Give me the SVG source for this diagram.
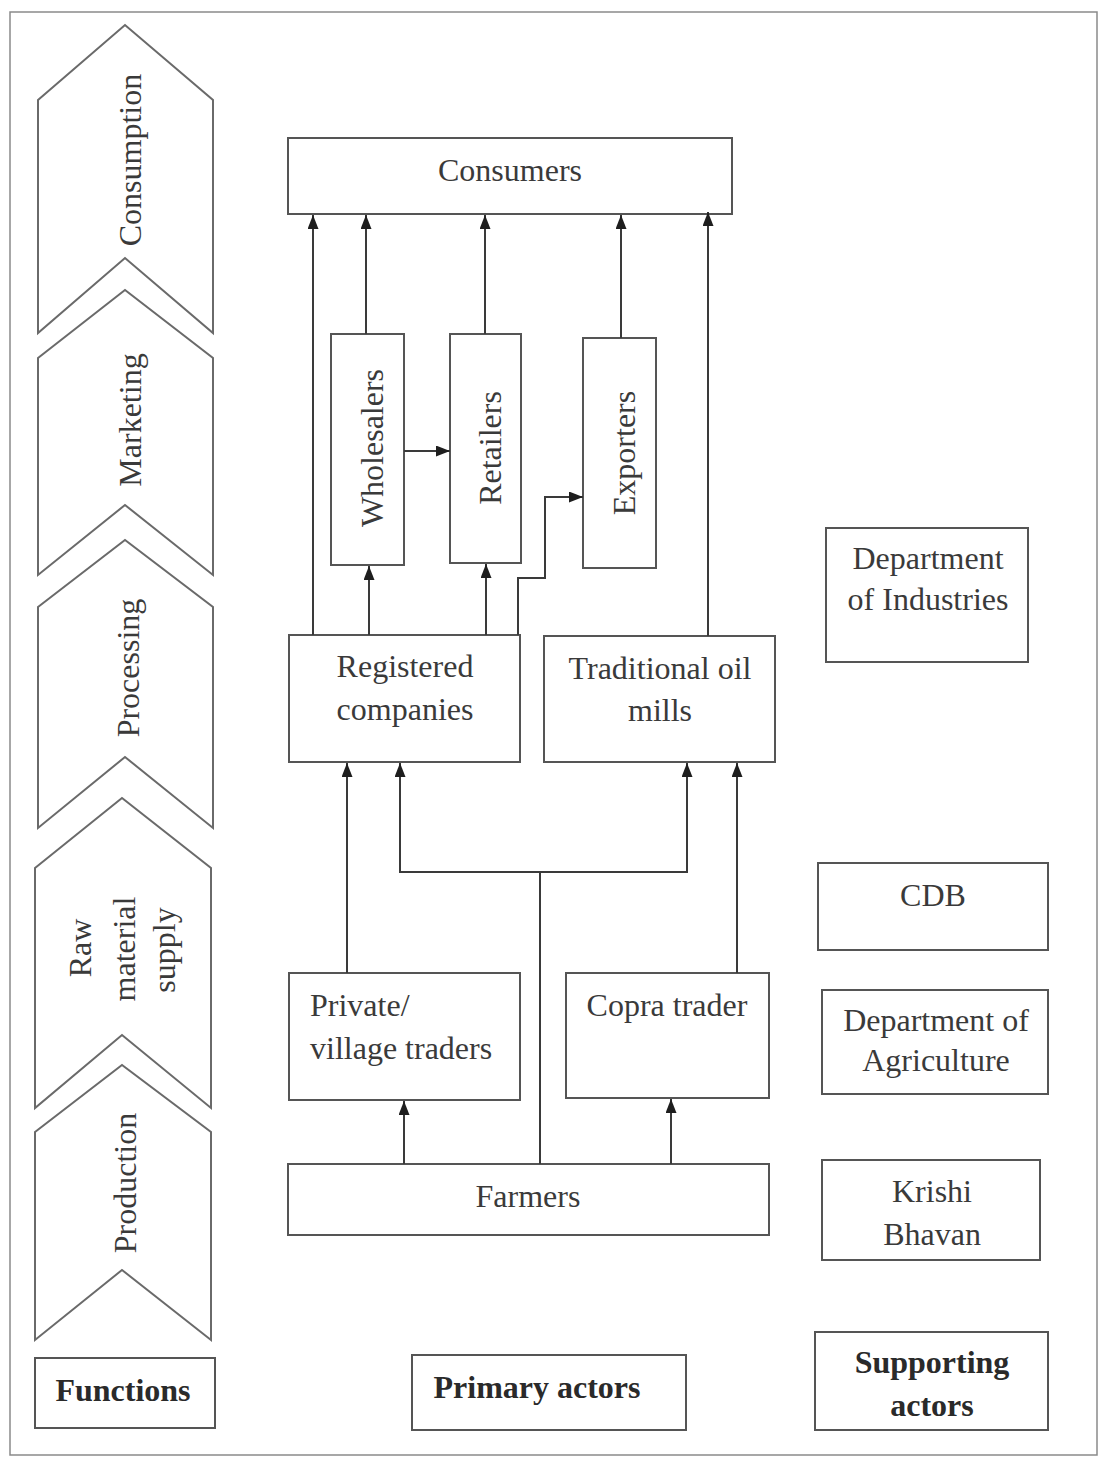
<svg xmlns="http://www.w3.org/2000/svg" width="1101" height="1457" viewBox="0 0 1101 1457">
  <style>
    .bg { fill: #ffffff; }
    .frame { fill: none; stroke: #8a8a8a; stroke-width: 1.5; }
    .box { fill: #ffffff; stroke: #555555; stroke-width: 2; }
    .chev { fill: #ffffff; stroke: #6a6a6a; stroke-width: 2; }
    .t { font-family: "Liberation Serif", "Times New Roman", serif; font-size: 32px; fill: #3a3a3a; text-anchor: middle; dominant-baseline: central; }
    .tl { text-anchor: start; }
    .b { font-weight: bold; fill: #2a2a2a; }
    .link { fill: none; stroke: #3a3a3a; stroke-width: 2; }
  </style>
  <defs>
    <marker id="arrow" viewBox="0 0 14 11" refX="14" refY="5.5" markerWidth="14" markerHeight="11" markerUnits="userSpaceOnUse" orient="auto">
      <path d="M0,0 L14,5.5 L0,11 Z" fill="#1e1e1e"/>
    </marker>
  </defs>

  <rect class="bg" x="0" y="0" width="1101" height="1457"/>
  <rect class="frame" x="10" y="12" width="1087" height="1443"/>

  <!-- Functions column: chevrons -->
  <g id="fn-consumption">
    <path class="chev" d="M38,100 L125,25 L213,100 L213,333 L125,258 L38,333 Z"/>
    <text class="t" transform="translate(130,160) rotate(-90)">Consumption</text>
  </g>
  <g id="fn-marketing">
    <path class="chev" d="M38,358 L125,290 L213,358 L213,575 L125,505 L38,575 Z"/>
    <text class="t" transform="translate(130,420) rotate(-90)">Marketing</text>
  </g>
  <g id="fn-processing">
    <path class="chev" d="M38,607 L125,540 L213,607 L213,828 L125,757 L38,828 Z"/>
    <text class="t" transform="translate(128,668) rotate(-90)">Processing</text>
  </g>
  <g id="fn-raw-material">
    <path class="chev" d="M35,868 L122,798 L211,868 L211,1108 L122,1035 L35,1108 Z"/>
    <text class="t" transform="translate(80,948) rotate(-90)">Raw</text>
    <text class="t" transform="translate(124,949) rotate(-90)">material</text>
    <text class="t" transform="translate(164,950) rotate(-90)">supply</text>
  </g>
  <g id="fn-production">
    <path class="chev" d="M35,1132 L122,1065 L211,1132 L211,1340 L122,1270 L35,1340 Z"/>
    <text class="t" transform="translate(125,1183) rotate(-90)">Production</text>
  </g>
  <g id="label-functions">
    <rect class="box" x="35" y="1358" width="180" height="70"/>
    <text class="t b" x="123" y="1390">Functions</text>
  </g>

  <!-- Primary actors -->
  <g id="consumers">
    <rect class="box" x="288" y="138" width="444" height="76"/>
    <text class="t" x="510" y="170">Consumers</text>
  </g>
  <g id="wholesalers">
    <rect class="box" x="331" y="334" width="73" height="231"/>
    <text class="t" transform="translate(372,448) rotate(-90)">Wholesalers</text>
  </g>
  <g id="retailers">
    <rect class="box" x="450" y="334" width="71" height="229"/>
    <text class="t" transform="translate(490,448) rotate(-90)">Retailers</text>
  </g>
  <g id="exporters">
    <rect class="box" x="583" y="338" width="73" height="230"/>
    <text class="t" transform="translate(624,453) rotate(-90)">Exporters</text>
  </g>
  <g id="registered-companies">
    <rect class="box" x="289" y="635" width="231" height="127"/>
    <text class="t" x="405" y="666">Registered</text>
    <text class="t" x="405" y="709">companies</text>
  </g>
  <g id="traditional-oil-mills">
    <rect class="box" x="544" y="636" width="231" height="126"/>
    <text class="t" x="660" y="668">Traditional oil</text>
    <text class="t" x="660" y="710">mills</text>
  </g>
  <g id="private-traders">
    <rect class="box" x="289" y="973" width="231" height="127"/>
    <text class="t tl" x="310" y="1005">Private/</text>
    <text class="t tl" x="310" y="1048">village traders</text>
  </g>
  <g id="copra-trader">
    <rect class="box" x="566" y="973" width="203" height="125"/>
    <text class="t" x="667" y="1005">Copra trader</text>
  </g>
  <g id="farmers">
    <rect class="box" x="288" y="1164" width="481" height="71"/>
    <text class="t" x="528" y="1196">Farmers</text>
  </g>
  <g id="label-primary">
    <rect class="box" x="412" y="1355" width="274" height="75"/>
    <text class="t b" x="537" y="1387">Primary actors</text>
  </g>

  <!-- Supporting actors -->
  <g id="dept-industries">
    <rect class="box" x="826" y="528" width="202" height="134"/>
    <text class="t" x="928" y="558">Department</text>
    <text class="t" x="928" y="599">of Industries</text>
  </g>
  <g id="cdb">
    <rect class="box" x="818" y="863" width="230" height="87"/>
    <text class="t" x="933" y="895">CDB</text>
  </g>
  <g id="dept-agriculture">
    <rect class="box" x="822" y="990" width="226" height="104"/>
    <text class="t" x="936" y="1020">Department of</text>
    <text class="t" x="936" y="1060">Agriculture</text>
  </g>
  <g id="krishi-bhavan">
    <rect class="box" x="822" y="1160" width="218" height="100"/>
    <text class="t" x="932" y="1191">Krishi</text>
    <text class="t" x="932" y="1234">Bhavan</text>
  </g>
  <g id="label-supporting">
    <rect class="box" x="815" y="1332" width="233" height="98"/>
    <text class="t b" x="932" y="1362">Supporting</text>
    <text class="t b" x="932" y="1405">actors</text>
  </g>

  <!-- Flows between actors -->
  <g id="connectors">
    <!-- into Consumers -->
    <path class="link" marker-end="url(#arrow)" d="M313,635 L313,215"/>
    <path class="link" marker-end="url(#arrow)" d="M366,334 L366,215"/>
    <path class="link" marker-end="url(#arrow)" d="M485,334 L485,215"/>
    <path class="link" marker-end="url(#arrow)" d="M621,338 L621,215"/>
    <path class="link" marker-end="url(#arrow)" d="M708,636 L708,212"/>
    <!-- wholesalers to retailers -->
    <path class="link" marker-end="url(#arrow)" d="M404,451 L450,451"/>
    <!-- registered companies up to marketing -->
    <path class="link" marker-end="url(#arrow)" d="M369,635 L369,566"/>
    <path class="link" marker-end="url(#arrow)" d="M486,635 L486,564"/>
    <path class="link" marker-end="url(#arrow)" d="M518,635 L518,578 L545,578 L545,497 L583,497"/>
    <!-- raw material into processors -->
    <path class="link" marker-end="url(#arrow)" d="M347,973 L347,763"/>
    <path class="link" d="M540,1164 L540,872"/>
    <path class="link" marker-end="url(#arrow)" d="M540,872 L400,872 L400,763"/>
    <path class="link" marker-end="url(#arrow)" d="M540,872 L687,872 L687,763"/>
    <path class="link" marker-end="url(#arrow)" d="M737,973 L737,763"/>
    <!-- farmers to traders -->
    <path class="link" marker-end="url(#arrow)" d="M404,1164 L404,1101"/>
    <path class="link" marker-end="url(#arrow)" d="M671,1164 L671,1099"/>
  </g>
</svg>
